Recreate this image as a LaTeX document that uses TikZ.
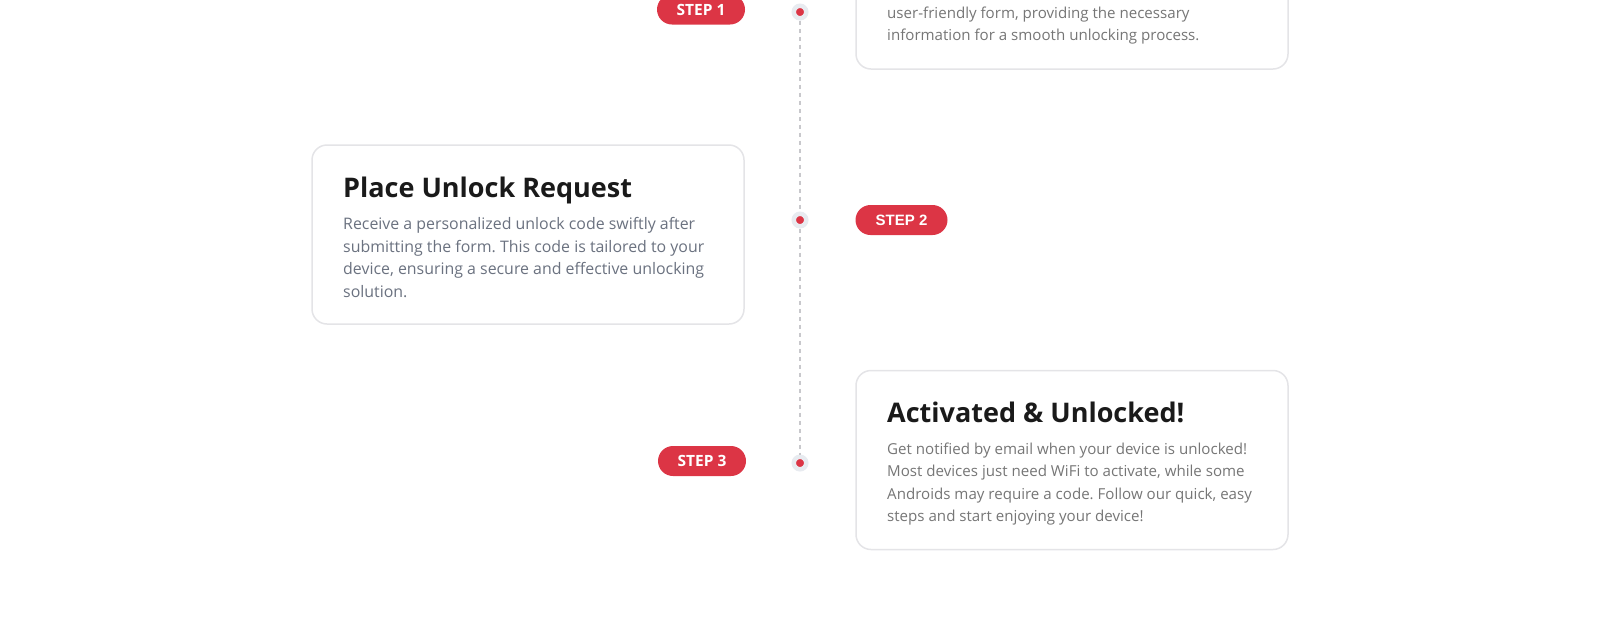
\documentclass[tikz,border=0pt]{standalone}
\usepackage{fontspec}
\setmainfont{Open Sans}
\newfontfamily\pillsans{Liberation Sans}
\frenchspacing
\definecolor{stepred}{HTML}{DC3545}
\definecolor{cardline}{HTML}{E4E4E7}
\definecolor{halo}{HTML}{E8EBF0}
\definecolor{railgray}{HTML}{C8C8CC}
\definecolor{titleink}{HTML}{1A1A1A}
\definecolor{bodyslate}{HTML}{6B7280}
\definecolor{bodygray}{HTML}{767676}
\tikzset{
  card/.style={draw=cardline, line width=1.5pt, fill=white, rounded corners=15pt,
    minimum width=432pt, minimum height=179pt, inner sep=0pt},
  pill/.style={fill=stepred, text=white, rounded corners=15pt, minimum width=88pt,
    minimum height=30pt, inner sep=0pt, font=\fontsize{15.5}{15.5}\selectfont\bfseries},
  dot/.style={circle, fill=stepred, draw=halo, line width=4.5pt, minimum size=12.5pt, inner sep=0pt},
  ttl/.style={anchor=base west, inner sep=0pt, text=titleink,
    font=\fontsize{27}{27}\selectfont\bfseries},
  body/.style={anchor=north west, inner sep=0pt, align=left,
    font=\fontsize{15.1}{22.5}\selectfont, execute at begin node=\strut}
}
\begin{document}
\begin{tikzpicture}[x=1pt, y=-1pt]
    \useasboundingbox (0,0) rectangle (1600,625);
    \clip (0,0) rectangle (1600,625);

    % cards
    \node[card] (card1) at (1072,-20.5) {};
    \node[card] (card2) at (528,234.5) {};
    \node[card] (card3) at (1072,460) {};

    % timeline
    \node[dot] (dot1) at (800,12) {};
    \node[dot] (dot2) at (800,220) {};
    \node[dot] (dot3) at (800,463) {};
    \draw[railgray, line width=1.2pt, dash pattern=on 4pt off 4pt] (dot1) -- (dot2);
    \draw[railgray, line width=1.2pt, dash pattern=on 4pt off 4pt] (dot2) -- (dot3);

    \node[pill] (step1) at (701,9.5) {STEP 1};
    \node[pill, minimum width=92pt, font=\fontsize{15}{15}\selectfont\pillsans\bfseries] (step2) at (901.5,220) {STEP 2};
    \node[pill] (step3) at (702,461) {STEP 3};

    % step 1 text
    \node[body, text=bodygray] (body1) at (887,6.25) {user-friendly form, providing the necessary\\information for a smooth unlocking process.};

    % step 2 text
    \node[ttl] (title2) at (343,197) {Place Unlock Request};
    \node[body, text=bodyslate, font=\fontsize{15.9}{22.5}\selectfont] (body2) at (343,217.25) {Receive a personalized unlock code swiftly after\\submitting the form. This code is tailored to your\\device, ensuring a secure and effective unlocking\\solution.};

    % step 3 text
    \node[ttl] (title3) at (887,422) {Activated \& Unlocked!};
    \node[body, text=bodygray] (body3) at (887,442.25) {Get notified by email when your device is unlocked!\\Most devices just need WiFi to activate, while some\\Androids may require a code. Follow our quick, easy\\steps and start enjoying your device!};
\end{tikzpicture}
\end{document}
